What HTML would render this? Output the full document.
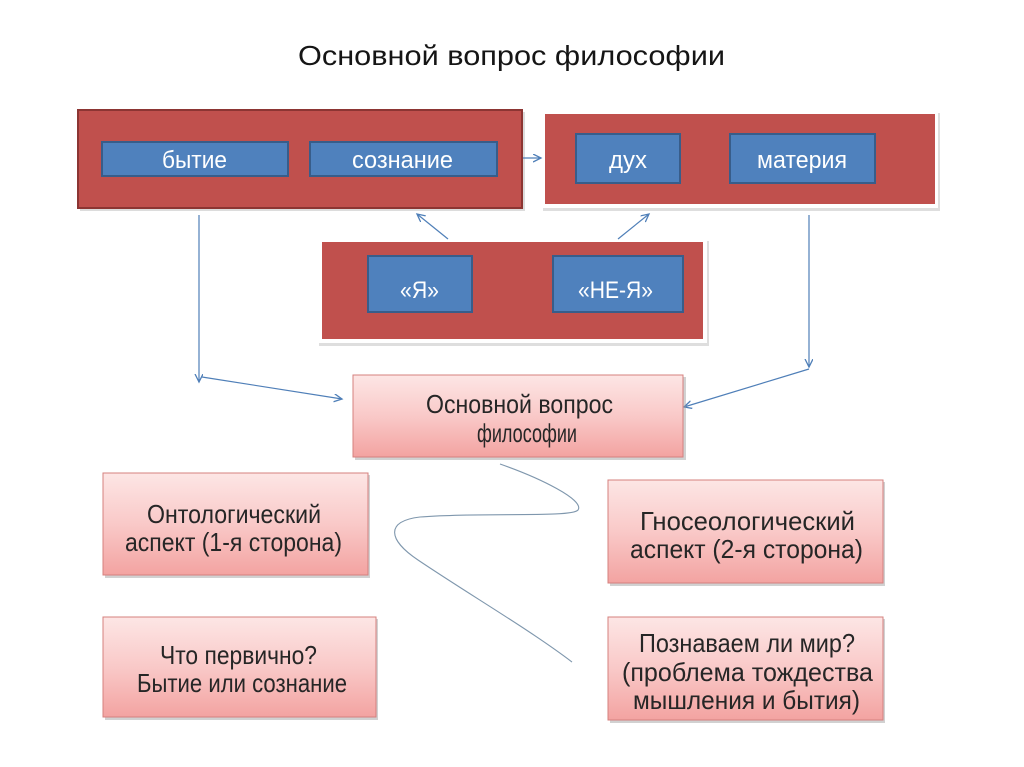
<!DOCTYPE html>
<html>
<head>
<meta charset="utf-8">
<style>
html,body{margin:0;padding:0;background:#fff;}
svg{display:block;}
text{font-family:"Liberation Sans","DejaVu Sans",sans-serif;}
</style>
</head>
<body>
<svg width="1024" height="767" viewBox="0 0 1024 767" xmlns="http://www.w3.org/2000/svg">
<defs>
  <linearGradient id="pk" x1="0" y1="0" x2="0" y2="1">
    <stop offset="0" stop-color="#fde6e5"/>
    <stop offset="0.5" stop-color="#f9c9c8"/>
    <stop offset="1" stop-color="#f3a3a1"/>
  </linearGradient>
  <marker id="ah" markerWidth="10" markerHeight="10" refX="8" refY="4" orient="auto" markerUnits="userSpaceOnUse">
    <path d="M0,0 L8,4 L0,8" fill="none" stroke="#4f7fb8" stroke-width="1.3"/>
  </marker>
</defs>
<rect width="1024" height="767" fill="#fff"/>

<!-- Title -->
<text x="298" y="65" font-size="28" fill="#151515" textLength="427" lengthAdjust="spacingAndGlyphs">Основной вопрос философии</text>

<!-- Box 1 -->
<rect x="80" y="112" width="445" height="99" fill="#b9b9b9" opacity="0.5"/>
<rect x="78" y="110" width="444" height="98" fill="#c0504d" stroke="#8c3533" stroke-width="2"/>
<rect x="102" y="142" width="186" height="34" fill="#4f81bd" stroke="#385d8a" stroke-width="2"/>
<rect x="310" y="142" width="187" height="34" fill="#4f81bd" stroke="#385d8a" stroke-width="2"/>
<text x="162" y="168" font-size="24" fill="#fff" textLength="65" lengthAdjust="spacingAndGlyphs">бытие</text>
<text x="352" y="168" font-size="24" fill="#fff" textLength="101" lengthAdjust="spacingAndGlyphs">сознание</text>

<!-- Box 2 -->
<rect x="543" y="113" width="397" height="98" fill="#c8c8c8" opacity="0.6"/>
<rect x="541" y="111" width="397" height="97" fill="#fff"/>
<rect x="545" y="114" width="390" height="90" fill="#c0504d"/>
<rect x="576" y="134" width="104" height="49" fill="#4f81bd" stroke="#385d8a" stroke-width="2"/>
<rect x="730" y="134" width="145" height="49" fill="#4f81bd" stroke="#385d8a" stroke-width="2"/>
<text x="609" y="168" font-size="24" fill="#fff" textLength="38" lengthAdjust="spacingAndGlyphs">дух</text>
<text x="757" y="168" font-size="24" fill="#fff" textLength="90" lengthAdjust="spacingAndGlyphs">материя</text>

<!-- Box 3 -->
<rect x="319" y="241" width="390" height="105" fill="#c8c8c8" opacity="0.6"/>
<rect x="317" y="239" width="390" height="104" fill="#fff"/>
<rect x="322" y="242" width="381" height="97" fill="#c0504d"/>
<rect x="368" y="256" width="104" height="56" fill="#4f81bd" stroke="#385d8a" stroke-width="2"/>
<rect x="553" y="256" width="130" height="56" fill="#4f81bd" stroke="#385d8a" stroke-width="2"/>
<text x="400" y="298" font-size="24" fill="#fff" textLength="39" lengthAdjust="spacingAndGlyphs">«Я»</text>
<text x="578" y="298" font-size="24" fill="#fff" textLength="75" lengthAdjust="spacingAndGlyphs">«НЕ-Я»</text>

<!-- Connectors -->
<g stroke="#4f7fb8" stroke-width="1.2" fill="none">
  <line x1="523" y1="158" x2="541" y2="158" marker-end="url(#ah)"/>
  <line x1="448" y1="239" x2="417" y2="214" marker-end="url(#ah)"/>
  <line x1="618" y1="239" x2="649" y2="214" marker-end="url(#ah)"/>
  <line x1="199" y1="215" x2="199" y2="382" marker-end="url(#ah)"/>
  <line x1="202" y1="377" x2="342" y2="399" marker-end="url(#ah)"/>
  <line x1="809" y1="215" x2="809" y2="367" marker-end="url(#ah)"/>
  <line x1="809" y1="369" x2="684" y2="407" marker-end="url(#ah)"/>
</g>

<!-- Pink boxes -->
<g>
  <rect x="355" y="377" width="331" height="83" fill="#9a9a9a" opacity="0.45"/>
  <rect x="353" y="375" width="330" height="82" fill="url(#pk)" stroke="#d5807e" stroke-width="1"/>
  <text x="426" y="413" font-size="26" fill="#262626" textLength="187" lengthAdjust="spacingAndGlyphs">Основной вопрос</text>
  <text x="477" y="442" font-size="26" fill="#262626" textLength="100" lengthAdjust="spacingAndGlyphs">философии</text>

  <rect x="105" y="475" width="265" height="103" fill="#9a9a9a" opacity="0.45"/>
  <rect x="103" y="473" width="265" height="102" fill="url(#pk)" stroke="#d5807e" stroke-width="1"/>
  <text x="147" y="523" font-size="26" fill="#262626" textLength="174" lengthAdjust="spacingAndGlyphs">Онтологический</text>
  <text x="125" y="551" font-size="26" fill="#262626" textLength="217" lengthAdjust="spacingAndGlyphs">аспект (1-я сторона)</text>

  <rect x="610" y="482" width="275" height="104" fill="#9a9a9a" opacity="0.45"/>
  <rect x="608" y="480" width="275" height="103" fill="url(#pk)" stroke="#d5807e" stroke-width="1"/>
  <text x="640" y="530" font-size="26" fill="#262626" textLength="215" lengthAdjust="spacingAndGlyphs">Гносеологический</text>
  <text x="630" y="558" font-size="26" fill="#262626" textLength="233" lengthAdjust="spacingAndGlyphs">аспект (2-я сторона)</text>

  <rect x="105" y="619" width="273" height="101" fill="#9a9a9a" opacity="0.45"/>
  <rect x="103" y="617" width="273" height="100" fill="url(#pk)" stroke="#d5807e" stroke-width="1"/>
  <text x="160" y="664" font-size="26" fill="#262626" textLength="157" lengthAdjust="spacingAndGlyphs">Что первично?</text>
  <text x="137" y="692" font-size="26" fill="#262626" textLength="210" lengthAdjust="spacingAndGlyphs">Бытие или сознание</text>

  <rect x="610" y="619" width="275" height="104" fill="#9a9a9a" opacity="0.45"/>
  <rect x="608" y="617" width="275" height="103" fill="url(#pk)" stroke="#d5807e" stroke-width="1"/>
  <text x="639" y="652" font-size="26" fill="#262626" textLength="216" lengthAdjust="spacingAndGlyphs">Познаваем ли мир?</text>
  <text x="622" y="681" font-size="26" fill="#262626" textLength="251" lengthAdjust="spacingAndGlyphs">(проблема тождества</text>
  <text x="633" y="709" font-size="26" fill="#262626" textLength="227" lengthAdjust="spacingAndGlyphs">мышления и бытия)</text>
</g>

<!-- Squiggle curve -->
<path d="M500,464 C540,478 585,500 578,510 C572,518 480,512 420,517 C385,521 388,540 418,560 C470,595 530,630 572,662" fill="none" stroke="#7f97ad" stroke-width="1.1"/>
</svg>
</body>
</html>
